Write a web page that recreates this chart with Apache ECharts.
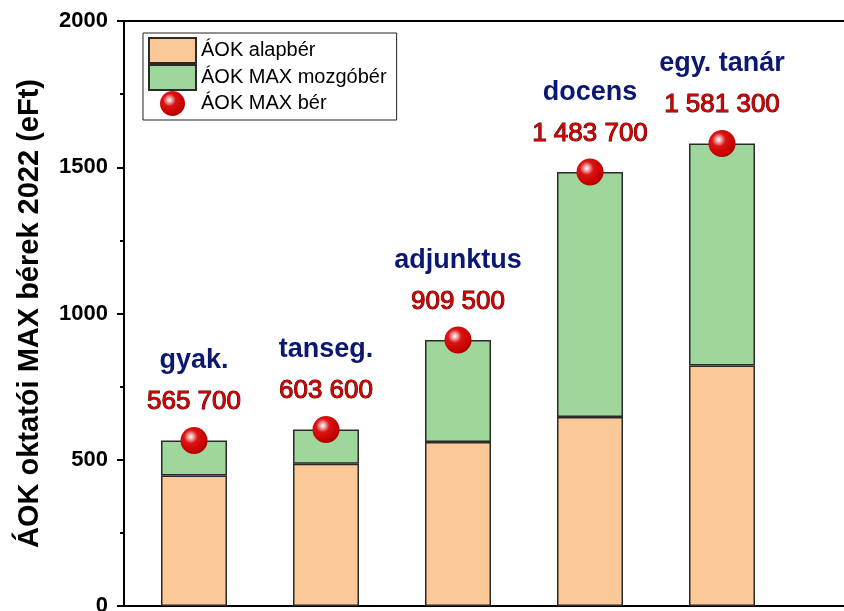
<!DOCTYPE html>
<html>
<head>
<meta charset="utf-8">
<script src="https://cdn.jsdelivr.net/npm/echarts@6/dist/echarts.min.js"></script>
<style>
  html, body { margin: 0; padding: 0; background: #fff; }
  #chart { width: 844px; height: 611px; }
</style>
</head>
<body>
<div id="chart"></div>
<script>
// Beosztások és bérek (ezer Ft, 2022)
const categories = ['gyak.', 'tanseg.', 'adjunktus', 'docens', 'egy. tanár'];
const alapber = [446, 486, 561, 646, 822];
const mozgober = [119.7, 117.6, 348.5, 837.7, 759.3];
const maxBer = [565.7, 603.6, 909.5, 1483.7, 1581.3];
const seriesNames = ['ÁOK alapbér', 'ÁOK MAX mozgóbér', 'ÁOK MAX bér'];
const yAxisTitle = 'ÁOK oktatói MAX bérek 2022 (eFt)';
const yMin = 0, yMax = 2000, yStep = 500;

const FONT = '"Liberation Sans", Arial, sans-serif';

// thousands separated with spaces: 565.7 -> "565 700"
function formatFt(v) {
  return String(Math.round(v * 1000)).replace(/\B(?=(\d{3})+(?!\d))/g, ' ');
}

const sphere = {
  type: 'radial', x: 0.38, y: 0.36, r: 0.66,
  colorStops: [
    { offset: 0, color: '#ffffff' },
    { offset: 0.14, color: '#f2b0b0' },
    { offset: 0.38, color: '#da1414' },
    { offset: 0.8, color: '#c90000' },
    { offset: 1, color: '#a80000' }
  ]
};

const chart = echarts.init(document.getElementById('chart'), null, { renderer: 'canvas' });

const frameLine = { show: true, lineStyle: { color: '#000', width: 2 } };

chart.setOption({
  animation: false,
  backgroundColor: '#fff',
  grid: [
    // plotting area for the bars and points
    { left: 128, right: 56, top: 21, bottom: 5, containLabel: false, outerBoundsMode: 'none' },
    // frame: y axis plus the top and bottom lines running to the edge
    { left: 124, right: 0, top: 21, bottom: 5, containLabel: false, outerBoundsMode: 'none' }
  ],
  legend: {
    left: 143, top: 33,
    orient: 'vertical',
    itemWidth: 47, itemHeight: 25, itemGap: 0,
    padding: [4, 10, 4, 5],
    borderColor: '#222', borderWidth: 1,
    textStyle: { fontFamily: FONT, fontSize: 20, color: '#000' },
    data: [
      { name: seriesNames[0], icon: 'rect' },
      { name: seriesNames[1], icon: 'rect' },
      { name: seriesNames[2], icon: 'circle' }
    ]
  },
  xAxis: [
    {
      gridIndex: 0, type: 'category', data: categories,
      axisLine: { show: false }, axisTick: { show: false }, axisLabel: { show: false }
    },
    {
      gridIndex: 1, type: 'value', position: 'bottom', min: 0, max: 1,
      axisLine: frameLine, axisTick: { show: false }, axisLabel: { show: false }, splitLine: { show: false }
    },
    {
      gridIndex: 1, type: 'value', position: 'top', min: 0, max: 1,
      axisLine: frameLine, axisTick: { show: false }, axisLabel: { show: false }, splitLine: { show: false }
    }
  ],
  yAxis: [
    {
      gridIndex: 0, type: 'value', min: yMin, max: yMax, interval: yStep,
      show: false
    },
    {
      gridIndex: 1, type: 'value', min: yMin, max: yMax, interval: yStep,
      name: yAxisTitle,
      nameLocation: 'middle',
      nameGap: 80,
      nameTextStyle: { fontFamily: FONT, fontSize: 29, fontWeight: 'bold', color: '#000' },
      axisLine: frameLine,
      axisTick: { show: true, inside: false, length: 7, lineStyle: { color: '#000', width: 2 } },
      minorTick: { show: true, splitNumber: 2, length: 4, lineStyle: { color: '#000', width: 2 } },
      splitLine: { show: false },
      axisLabel: {
        margin: 16, fontFamily: FONT, fontSize: 22, fontWeight: 'bold', color: '#000',
        formatter: v => String(v)
      }
    }
  ],
  series: [
    {
      name: seriesNames[0],
      type: 'bar',
      xAxisIndex: 0, yAxisIndex: 0,
      stack: 'ber',
      barWidth: 66,
      data: alapber,
      itemStyle: { color: '#fbc897', borderColor: '#2a2a2a', borderWidth: 1.5 }
    },
    {
      name: seriesNames[1],
      type: 'bar',
      xAxisIndex: 0, yAxisIndex: 0,
      stack: 'ber',
      barWidth: 66,
      data: mozgober,
      itemStyle: { color: '#9ed69c', borderColor: '#2a2a2a', borderWidth: 1.5 }
    },
    {
      name: seriesNames[2],
      type: 'scatter',
      xAxisIndex: 0, yAxisIndex: 0,
      symbol: 'circle',
      symbolSize: 27,
      z: 5,
      data: maxBer,
      itemStyle: { color: sphere, opacity: 1 },
      label: {
        show: true,
        position: 'top',
        distance: 10,
        formatter: p => '{c|' + categories[p.dataIndex] + '}\n{v|' + formatFt(maxBer[p.dataIndex]) + '}',
        rich: {
          c: { fontFamily: FONT, fontSize: 27, fontWeight: 'bold', color: '#0b1872', lineHeight: 52 },
          v: { fontFamily: FONT, fontSize: 26, color: '#d60000', textBorderColor: '#4a0000', textBorderWidth: 1, lineHeight: 30 }
        }
      }
    }
  ]
});
</script>
</body>
</html>
